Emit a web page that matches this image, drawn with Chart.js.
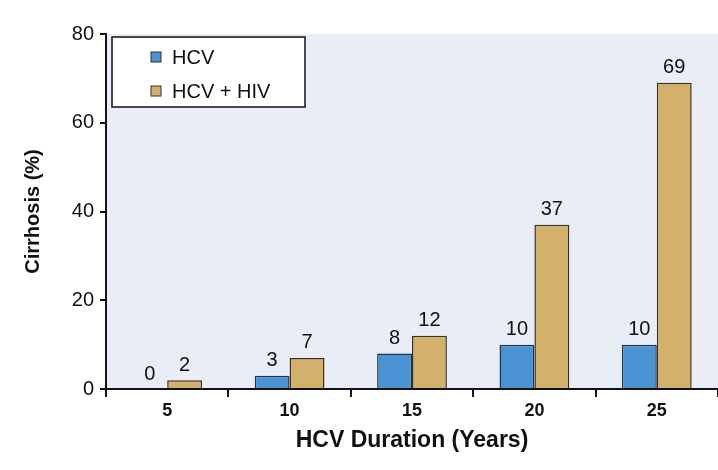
<!DOCTYPE html>
<html>
<head>
<meta charset="utf-8">
<script src="https://cdn.jsdelivr.net/npm/chart.js@4"></script>
<style>
  body { margin: 0; background: #fff; }
  #wrap { width: 718px; height: 470px; }
</style>
</head>
<body>
<div id="wrap"><canvas id="chart" width="718" height="470"></canvas></div>
<script>
// ------------------ Data ------------------
const years = ["5", "10", "15", "20", "25"];
const hcv = [0, 3, 8, 10, 10];
const hcvHiv = [2, 7, 12, 37, 69];
const yTicks = [0, 20, 40, 60, 80];

const FONT = "'Liberation Sans', Arial, sans-serif";

// plot background
const plotBg = {
  id: "plotBg",
  beforeDraw(chart) {
    const { ctx, chartArea: a } = chart;
    ctx.save();
    ctx.fillStyle = "#e9eef6";
    ctx.fillRect(a.left, a.top, a.right - a.left, a.bottom - a.top);
    ctx.restore();
  }
};

// value labels over bars
const valueLabels = {
  id: "valueLabels",
  afterDatasetsDraw(chart) {
    const ctx = chart.ctx;
    ctx.save();
    ctx.font = "20px " + FONT;
    ctx.fillStyle = "#111";
    ctx.textAlign = "center";
    ctx.textBaseline = "bottom";
    chart.data.datasets.forEach((ds, i) => {
      chart.getDatasetMeta(i).data.forEach((bar, j) => {
        ctx.fillText(ds.data[j], bar.x, bar.y - 5);
      });
    });
    ctx.restore();
  }
};

// legend box inside the plot
const boxLegend = {
  id: "boxLegend",
  afterDraw(chart) {
    const ctx = chart.ctx;
    const x = 112, y = 37, w = 193, h = 70;
    ctx.save();
    ctx.fillStyle = "#fff";
    ctx.fillRect(x, y, w, h);
    ctx.strokeStyle = "#111";
    ctx.lineWidth = 1.5;
    ctx.strokeRect(x, y, w, h);
    ctx.font = "20px " + FONT;
    ctx.textBaseline = "middle";
    chart.data.datasets.forEach((ds, i) => {
      const cy = y + 20 + i * 34;
      ctx.fillStyle = ds.backgroundColor;
      ctx.fillRect(x + 39, cy - 5, 10, 10);
      ctx.strokeStyle = "#333";
      ctx.lineWidth = 1;
      ctx.strokeRect(x + 39, cy - 5, 10, 10);
      ctx.fillStyle = "#111";
      ctx.fillText(ds.label, x + 60, cy + 1);
    });
    ctx.restore();
  }
};

new Chart(document.getElementById("chart"), {
  type: "bar",
  data: {
    labels: years,
    datasets: [
      { label: "HCV", data: hcv, backgroundColor: "#4b93d2", borderColor: "#1f3550", borderWidth: 1.5 },
      { label: "HCV + HIV", data: hcvHiv, backgroundColor: "#d3b16c", borderColor: "#3a3020", borderWidth: 1.5 }
    ]
  },
  options: {
    responsive: false,
    animation: false,
    layout: { padding: { top: 34, right: -2, left: 0, bottom: 0 } },
    datasets: { bar: { barPercentage: 1, categoryPercentage: 0.57 } },
    plugins: { legend: { display: false }, tooltip: { enabled: false } },
    scales: {
      x: {
        grid: { offset: true, drawOnChartArea: false, drawTicks: true, tickLength: 8, color: "#111", lineWidth: 2 },
        border: { color: "#111", width: 2 },
        ticks: { color: "#111", font: { family: FONT, size: 18, weight: "bold" }, padding: 3 },
        title: { display: true, text: "HCV Duration (Years)", color: "#111", font: { family: FONT, size: 23, weight: "bold" }, padding: { top: 0, bottom: 16 } },
        afterFit(scale) { scale.height = 81; }
      },
      y: {
        min: 0, max: 80,
        afterBuildTicks(scale) { scale.ticks = yTicks.map(v => ({ value: v })); },
        grid: { drawOnChartArea: false, drawTicks: true, tickLength: 6, color: "#111", lineWidth: 2 },
        border: { color: "#111", width: 2 },
        ticks: { color: "#111", font: { family: FONT, size: 20 }, padding: 6 },
        title: { display: true, text: "Cirrhosis (%)", color: "#111", font: { family: FONT, size: 20, weight: "bold" }, padding: { top: 21, bottom: 0 } },
        afterFit(scale) { scale.width = 106; }
      }
    }
  },
  plugins: [plotBg, valueLabels, boxLegend]
});
</script>
</body>
</html>
